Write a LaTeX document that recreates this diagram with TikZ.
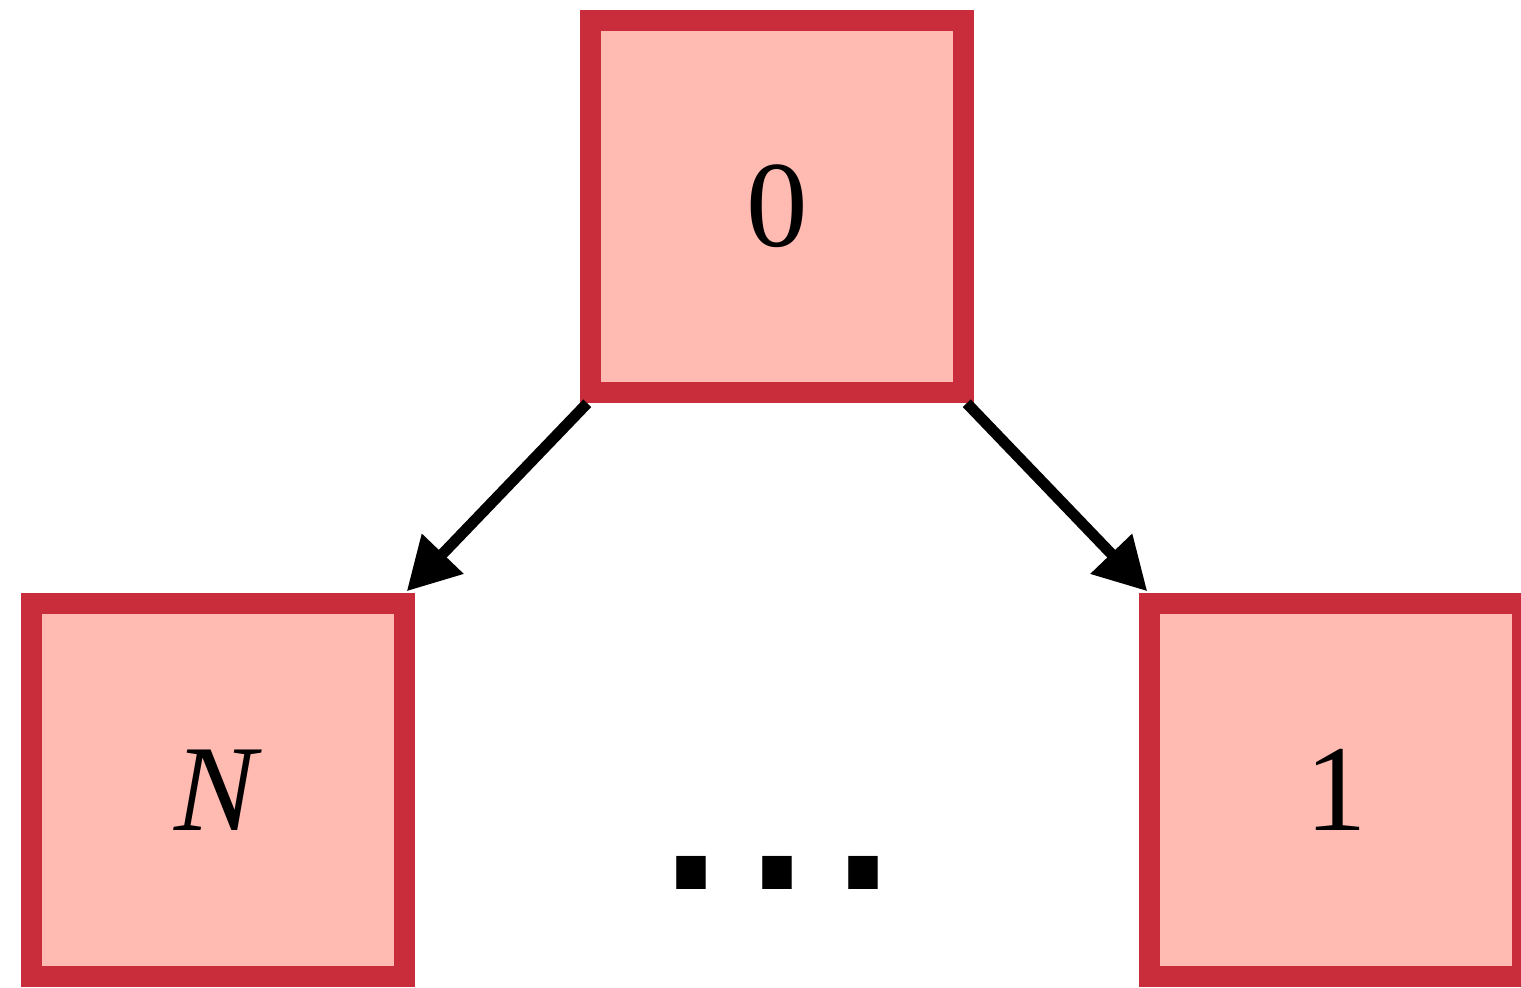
\documentclass[tikz,border=0pt]{standalone}
\usepackage{fontspec}
\setmainfont{Liberation Serif}
\setsansfont{Liberation Sans}
\usetikzlibrary{arrows.meta}
\definecolor{boxred}{RGB}{201,45,59}
\definecolor{boxpink}{RGB}{255,187,178}
\tikzset{proc/.style={rectangle, draw=boxred, fill=boxpink, line width=0.21cm,
      minimum size=3.725cm, inner sep=0pt, font=\fontsize{35}{40}\selectfont}}
\tikzset{link/.style={line width=0.11cm, -{Triangle[length=0.52cm,width=0.55cm]}}}

\begin{document}
\begin{tikzpicture}
		\useasboundingbox (0,0) rectangle (15.21,9.88);
		\node[proc] (p0) at (7.77,7.815) {0};
		\node[proc] (pN) at (2.18,1.98) {\textit{N}};
		\node[proc] (p1) at (13.36,1.98) {1};
		\node[anchor=base, inner sep=0pt, font=\sffamily\fontsize{88}{100}\selectfont] (dots) at (7.77,0.985) {...};
		\draw[link] ([xshift=0.07cm]p0.south west) -- ([xshift=-0.08cm,yshift=0.02cm]pN.north east);
		\draw[link] ([xshift=-0.07cm]p0.south east) -- ([xshift=0.08cm,yshift=0.02cm]p1.north west);
\end{tikzpicture}
\end{document}
